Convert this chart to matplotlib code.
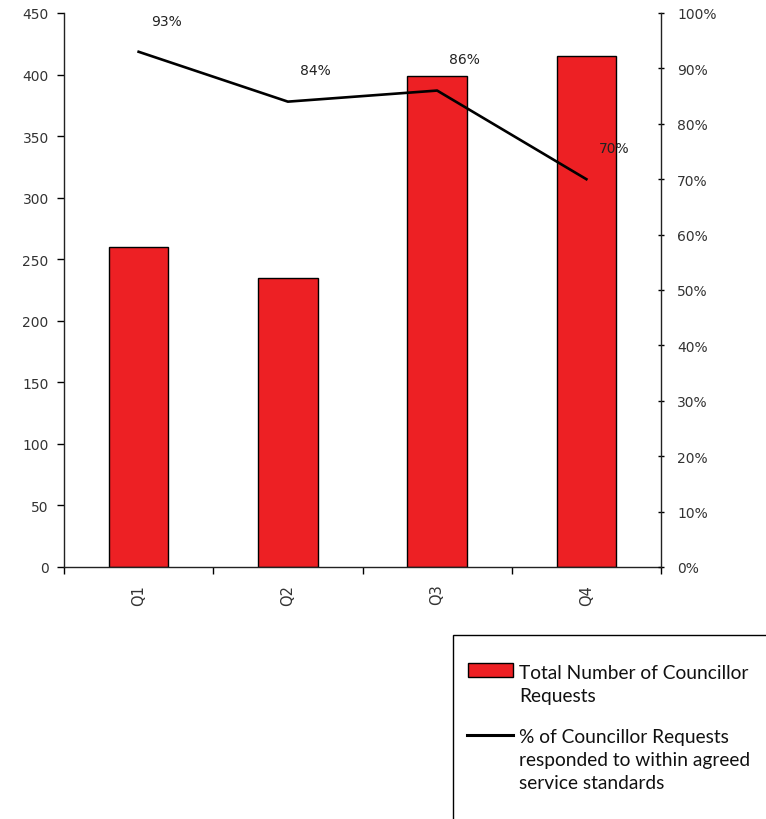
import matplotlib
matplotlib.use("Agg")
import matplotlib.pyplot as plt
from matplotlib.patches import Rectangle
from matplotlib.lines import Line2D

categories = ["Q1", "Q2", "Q3", "Q4"]
requests = [260, 235, 399, 415]
pct_responded = [93, 84, 86, 70]
left_ticks = [0, 50, 100, 150, 200, 250, 300, 350, 400, 450]
right_ticks = [0, 10, 20, 30, 40, 50, 60, 70, 80, 90, 100]
legend_labels = ["Total Number of Councillor\nRequests",
                 "% of Councillor Requests\nresponded to within agreed\nservice standards"]

W, H = 766, 820
fig = plt.figure(figsize=(W / 100, H / 100), dpi=100)
ax = fig.add_axes([64 / W, 1 - 568 / H, (661 - 64) / W, (568 - 14) / H])
ax2 = ax.twinx()

red = "#ED2024"
x = list(range(len(categories)))
bars = ax.bar(x, requests, width=0.4, color=red, edgecolor="black", linewidth=1.0, zorder=2)
line, = ax2.plot(x, pct_responded, color="black", linewidth=1.9, zorder=3)

tickfont = dict(family="DejaVu Sans", size=10)
for xi, v in zip(x, pct_responded):
    ax2.annotate(f"{v}%", (xi, v), xytext=(20, 22.5), textcoords="offset points",
                 ha="center", va="center", color="#222222", **tickfont)

ax.set_xlim(-0.5, len(categories) - 0.5)
ax.set_ylim(0, 450)
ax2.set_ylim(0, 100)
ax.set_yticks(left_ticks)
ax.set_yticklabels([str(t) for t in left_ticks], fontfamily="DejaVu Sans", fontsize=10, color="#333333")
ax2.set_yticks(right_ticks)
ax2.set_yticklabels([f"{t}%" for t in right_ticks], fontfamily="DejaVu Sans", fontsize=10, color="#333333")

ax.set_xticks(x)
ax.set_xticklabels(categories, rotation=90, fontfamily="DejaVu Sans", fontsize=10.5, color="#333333")
ax.set_xticks([i - 0.5 for i in range(len(categories) + 1)], minor=True)
ax.tick_params(axis="x", which="major", length=0, pad=12)
ax.tick_params(axis="x", which="minor", length=5, direction="out", width=1)
ax.tick_params(axis="y", length=5, direction="out", width=1, pad=6)
ax2.tick_params(axis="y", length=5, direction="inout", width=1, pad=9)

for a in (ax, ax2):
    a.spines["top"].set_visible(False)
    for s in ("left", "right", "bottom"):
        a.spines[s].set_linewidth(1.0)
        a.spines[s].set_color("#222222")
ax2.spines["left"].set_visible(False)
ax2.spines["bottom"].set_visible(False)
ax.spines["right"].set_visible(False)

# Legend box (extends past figure edge)
fig.patches.append(Rectangle((453 / W, -0.1), 0.6, (1 - 636 / H) + 0.1, transform=fig.transFigure,
                             facecolor="white", edgecolor="black", linewidth=1.0, clip_on=False))
fig.patches.append(Rectangle((468 / W, 1 - 678 / H), 45 / W, 14 / H, transform=fig.transFigure,
                             facecolor=red, edgecolor="black", linewidth=1.0))
fig.lines.append(Line2D([467 / W, 513 / W], [1 - 736 / H, 1 - 736 / H], transform=fig.transFigure,
                        color="black", linewidth=2.2))
legfont = dict(family="Lato", size=13.8, color="#111111", linespacing=1.42)
fig.text(519 / W, 1 - 665 / H, legend_labels[0], ha="left", va="top", **legfont)
fig.text(519 / W, 1 - 729 / H, legend_labels[1], ha="left", va="top", **legfont)

fig.savefig("out.png", dpi=100)
